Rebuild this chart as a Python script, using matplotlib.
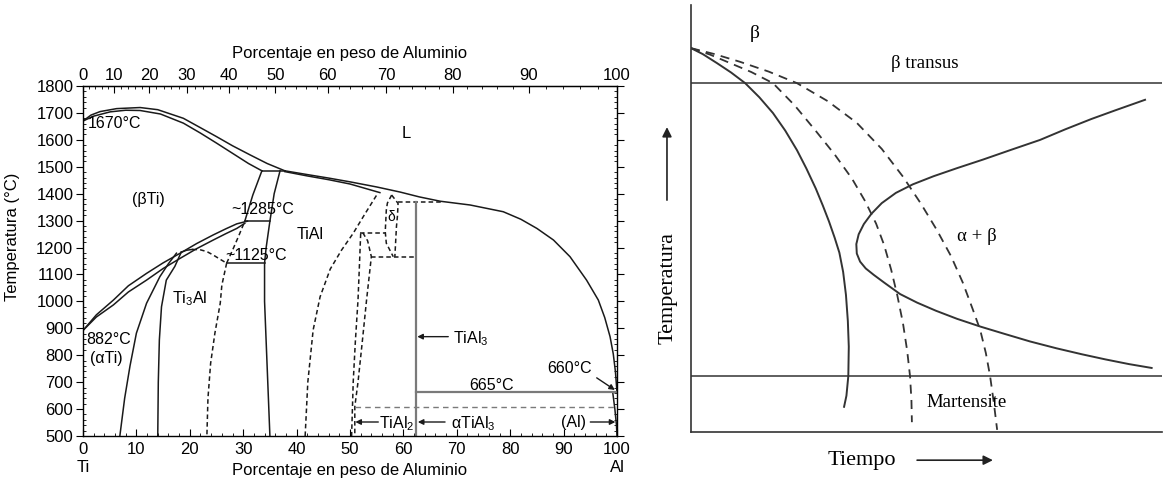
import matplotlib.pyplot as plt
import numpy as np
from matplotlib.ticker import MultipleLocator

plt.rcParams['font.family'] = ['Liberation Sans', 'DejaVu Sans']
plt.rcParams['mathtext.fontset'] = 'custom'
plt.rcParams['mathtext.rm'] = 'Liberation Sans'

# ---- Ti-Al phase diagram (wt% Al, deg C) ----
liquidus_ti = [(0, 1670), (1.5, 1692), (3.2, 1705), (6.3, 1716), (10.7, 1720), (14, 1712),
               (18.8, 1680), (22, 1645), (25, 1612), (28, 1578), (31.3, 1544), (34.5, 1512), (37.8, 1485)]
solidus_ti = [(0, 1670), (2, 1688), (5.1, 1704), (8, 1710), (10.7, 1709), (14.5, 1696),
              (18.8, 1662), (22, 1625), (25, 1588), (28, 1550), (31, 1512), (33.5, 1485)]
peritectic = [(33.5, 1485), (37.8, 1485)]
liquidus_al = [(37.8, 1485), (42, 1471), (46, 1458), (50, 1444), (55, 1425), (59.4, 1406),
               (63, 1388), (66.9, 1372), (72.5, 1358), (78.7, 1333), (82, 1305), (85, 1271),
               (88.1, 1228), (91.2, 1166), (94.3, 1079), (96.5, 1005), (97.7, 940),
               (98.7, 869), (99.3, 805), (99.7, 740), (100, 662)]
solidus_tial = [(37.8, 1482), (42, 1466), (46, 1452), (50, 1436), (55.6, 1404)]
beta_line = [(33.5, 1485), (31.8, 1395), (30.3, 1298)]
tial_left = [(36.9, 1485), (35.8, 1400), (35.0, 1298), (34.3, 1200), (34.0, 1142),
             (34.0, 1000), (34.4, 800), (34.8, 600), (35.0, 500)]
eutectoid_1285 = [(30.3, 1298), (35.0, 1298)]
eutectoid_1125 = [(26.9, 1142), (34.0, 1142)]
alpha_upper = [(0, 892), (2.5, 950), (5.7, 1005), (8.5, 1058), (11.9, 1104), (15, 1143),
               (18.2, 1179), (21.3, 1215), (24.4, 1247), (26.8, 1270), (28.8, 1288), (30.8, 1298)]
alpha_lower = [(0, 892), (2.5, 942), (5.7, 987), (8.5, 1035), (11.9, 1079), (15, 1122),
               (18.2, 1160), (21.3, 1196), (24.4, 1228), (26.8, 1252), (28.8, 1271), (30.3, 1290)]
alpha_solvus = [(17.5, 1179), (16, 1140), (14.4, 1092), (11.9, 993), (10, 882), (8.8, 760),
                (7.8, 640), (6.9, 500)]
ti3al_left = [(18.4, 1183), (17.2, 1130), (15.6, 1079), (14.7, 980), (14.3, 857),
              (14.1, 700), (14.0, 500)]
ti3al_top = [(18.4, 1183), (19.4, 1190), (20.5, 1193)]
ti3al_dome = [(20.5, 1193), (21.9, 1192), (23.2, 1185), (24.4, 1172), (25.8, 1155), (26.9, 1142)]
ti3al_right = [(26.9, 1142), (26.0, 1060), (25.7, 993), (24.7, 882), (23.9, 770),
               (23.4, 640), (23.2, 500)]
alpha_gamma = [(26.9, 1142), (28.0, 1190), (29.2, 1245), (30.3, 1298)]
tial_right = [(41.6, 500), (42.1, 700), (43.1, 894), (44.4, 1017), (46.3, 1120),
              (48.4, 1190), (50.6, 1253), (52.8, 1325), (55.0, 1395)]
delta_left = [(57.8, 1395), (57.0, 1365), (56.8, 1339), (56.6, 1259), (56.8, 1216), (58.1, 1166)]
delta_right = [(57.8, 1395), (59.0, 1364), (58.9, 1320), (58.7, 1278), (58.4, 1166)]
line_1368 = [(59.0, 1368), (67.4, 1368)]
line_1255 = [(51.9, 1255), (56.6, 1255)]
line_1164 = [(54.0, 1164), (62.4, 1164)]
tial2_left = [(52.0, 1252), (51.8, 1150), (51.5, 1005), (51.0, 850), (50.6, 700), (50.3, 500)]
tial2_right = [(52.4, 1255), (53.3, 1225), (54.0, 1166), (53.1, 1005), (52.3, 850),
               (51.5, 700), (50.9, 609), (50.9, 500)]
line_610 = [(50.9, 609), (99.6, 609)]
tial3_line = [(62.4, 500), (62.4, 1368)]
line_665 = [(62.4, 662), (100, 662)]
al_solvus = [(99.2, 662), (99.6, 600), (99.9, 540), (100, 500)]

# ---- CCT sketch (relative units) ----
beta_transus = 81.7
martensite = 13.1
curve_solid = [(0, 89.9), (2.5, 88.5), (5.5, 86.4), (8.5, 84.2), (11.5, 81.7), (14.5, 78.4),
               (17.4, 74.7), (20, 70.6), (22.5, 66.0), (24.5, 61.7), (26.5, 57.0), (28, 53.0),
               (29.3, 49.3), (30.5, 45.5), (31.5, 42.0), (32.3, 37.5), (32.9, 32.1),
               (33.3, 26.0), (33.5, 20.0), (33.4, 13.1), (33.0, 8.5), (32.5, 5.9)]
curve_dash1 = [(0, 89.9), (4, 88.4), (8.3, 86.4), (12.8, 84.3), (17.4, 81.7), (22, 76.5),
               (26.5, 70.5), (30.5, 65.0), (34.2, 59.3), (37, 54.0), (39.3, 48.8), (41.0, 43.8),
               (42.5, 38.0), (43.8, 32.0), (45.0, 25.5), (45.9, 19.0), (46.5, 13.1),
               (46.8, 7.5), (46.9, 2.3)]
curve_dash2 = [(0, 89.9), (5, 88.5), (10.4, 86.7), (16.5, 84.4), (22.5, 81.7), (29, 77.5),
               (35.2, 72.4), (40.5, 66.3), (45.0, 59.8), (48.8, 53.5), (52.2, 47.3),
               (55.2, 41.2), (57.7, 35.0), (59.8, 28.8), (61.4, 23.9), (62.6, 18.5),
               (63.5, 13.1), (64.3, 6.8), (65.0, 0.5)]
c_curve = [(96.4, 77.8), (90, 75.3), (85, 73.3), (79.5, 70.9), (74.1, 68.4), (68, 66.1),
           (62, 63.8), (56.5, 61.8), (51.5, 59.9), (47.1, 58.0), (43.5, 56.0), (40.5, 53.6),
           (38.3, 51.1), (36.7, 48.7), (35.6, 46.3), (35.1, 44.0), (35.2, 41.8), (35.9, 39.9),
           (37.1, 38.3), (38.8, 36.8), (41.0, 35.0), (44.4, 32.3), (48, 30.3), (52, 28.4),
           (56.5, 26.5), (61.4, 24.7), (66.5, 23.0), (72, 21.2), (77.6, 19.6), (83, 18.2),
           (88, 17.0), (93, 15.9), (97.8, 15.0)]


def draw(ax, pts, **kw):
    x, y = zip(*pts)
    ax.plot(x, y, solid_joinstyle='round', dash_joinstyle='round', **kw)


def wt_to_at(w):
    w = np.clip(np.asarray(w, dtype=float), 0, 100)
    a = w / 26.98
    b = (100 - w) / 47.87
    return 100 * a / (a + b)


def at_to_wt(x):
    x = np.clip(np.asarray(x, dtype=float), 0, 100)
    a = 26.98 * x
    b = 47.87 * (100 - x)
    return 100 * a / (a + b)


fig = plt.figure(figsize=(11.71, 4.79), dpi=100)

# ================= left: phase diagram =================
ax = fig.add_axes([83 / 1171, 43 / 479, 534 / 1171, 350 / 479])
k = '#1a1a1a'
g = '#7a7a7a'
solid = dict(color=k, lw=1.1)
dash = dict(color=k, lw=1.1, ls=(0, (3, 2)))

for pts in [liquidus_ti, solidus_ti, peritectic, liquidus_al, solidus_tial, beta_line,
            tial_left, eutectoid_1285, eutectoid_1125, alpha_upper, alpha_lower,
            alpha_solvus, ti3al_left, ti3al_top, al_solvus]:
    draw(ax, pts, **solid)
for pts in [ti3al_dome, ti3al_right, alpha_gamma, tial_right, delta_left, delta_right,
            line_1368, line_1255, line_1164, tial2_left, tial2_right]:
    draw(ax, pts, **dash)
draw(ax, line_610, color=g, lw=1.0, ls=(0, (4, 3)))
draw(ax, tial3_line, color=g, lw=1.6)
draw(ax, line_665, color=g, lw=1.6)

ax.set_xlim(0, 100)
ax.set_ylim(500, 1800)
ax.xaxis.set_major_locator(MultipleLocator(10))
ax.xaxis.set_minor_locator(MultipleLocator(2))
ax.yaxis.set_major_locator(MultipleLocator(100))
ax.yaxis.set_minor_locator(MultipleLocator(20))
ax.tick_params(axis='x', which='major', direction='in', length=5, labelsize=12, pad=4)
ax.tick_params(axis='x', which='minor', direction='in', length=2.5)
ax.tick_params(axis='y', which='major', direction='out', length=5, labelsize=12,
               right=True, pad=2)
ax.tick_params(axis='y', which='minor', direction='in', length=2.5, right=True)
ax.set_ylabel('Temperatura (°C)', fontsize=12)
ax.yaxis.set_label_coords(-0.118, 0.57)
ax.set_xlabel('Porcentaje en peso de Aluminio', fontsize=12, labelpad=5)

sec = ax.secondary_xaxis('top', functions=(wt_to_at, at_to_wt))
sec.set_xticks(np.arange(0, 101, 10))
sec.xaxis.set_minor_locator(MultipleLocator(2))
sec.tick_params(which='major', direction='in', length=5, labelsize=12, pad=2)
sec.tick_params(which='minor', direction='in', length=2.5)
sec.set_xlabel('Porcentaje en peso de Aluminio', fontsize=12, labelpad=7)

for s in ax.spines.values():
    s.set_linewidth(1.0)

fs = 11.5
ax.text(0, 384, 'Ti', ha='center', va='center', fontsize=12, clip_on=False)
ax.text(100, 384, 'Al', ha='center', va='center', fontsize=12, clip_on=False)
ax.text(60.6, 1624, 'L', ha='center', va='center', fontsize=12)
ax.text(12.2, 1377, '(βTi)', ha='center', va='center', fontsize=fs)
ax.text(0.9, 1662, '1670°C', ha='left', va='center', fontsize=fs)
ax.text(33.6, 1343, '~1285°C', ha='center', va='center', fontsize=fs)
ax.text(42.5, 1247, 'TiAl', ha='center', va='center', fontsize=fs)
ax.text(32.5, 1169, '~1125°C', ha='center', va='center', fontsize=fs)
ax.text(19.9, 993, r'Ti$_\mathregular{3}$Al', ha='center', va='baseline', fontsize=fs)
ax.text(0.7, 860, '882°C', ha='left', va='center', fontsize=fs)
ax.text(1.3, 786, '(αTi)', ha='left', va='center', fontsize=fs)
ax.text(57.8, 1315, 'δ', ha='center', va='center', fontsize=10)
ax.text(76.6, 686, '665°C', ha='center', va='center', fontsize=fs)
ax.text(91.2, 749, '660°C', ha='center', va='center', fontsize=fs)

arrow = dict(arrowstyle='-|>', color=k, lw=1.0, mutation_scale=8, shrinkA=0, shrinkB=0)
ax.text(69.3, 845, r'TiAl$_\mathregular{3}$', fontsize=fs, ha='left', va='baseline')
ax.annotate('', xy=(62.6, 869), xytext=(68.4, 869), arrowprops=arrow)
ax.text(55.4, 528, r'TiAl$_\mathregular{2}$', fontsize=fs, ha='left', va='baseline')
ax.annotate('', xy=(51.0, 552), xytext=(55.3, 552), arrowprops=arrow)
ax.text(69.0, 528, r'αTiAl$_\mathregular{3}$', fontsize=fs, ha='left', va='baseline')
ax.annotate('', xy=(62.7, 552), xytext=(67.8, 552), arrowprops=arrow)
ax.text(91.8, 552, '(Al)', ha='center', va='center', fontsize=fs)
ax.annotate('', xy=(99.7, 552), xytext=(95.0, 552), arrowprops=arrow)
ax.annotate('', xy=(99.6, 671), xytext=(96.2, 716), arrowprops=arrow)

# ================= right: CCT sketch =================
bx = fig.add_axes([691 / 1171, 47 / 479, 471 / 1171, 427 / 479])
bx.set_xlim(0, 100)
bx.set_ylim(0, 100)
bx.set_xticks([])
bx.set_yticks([])
for side in ['top', 'right']:
    bx.spines[side].set_visible(False)
for side in ['left', 'bottom']:
    bx.spines[side].set_color('#333333')
    bx.spines[side].set_linewidth(1.2)

c = '#333333'
bx.axhline(beta_transus, color=c, lw=1.1)
bx.axhline(martensite, color=c, lw=1.1)
draw(bx, curve_solid, color=c, lw=1.4)
draw(bx, c_curve, color=c, lw=1.4)
draw(bx, curve_dash1, color=c, lw=1.3, ls=(0, (5, 3.5)))
draw(bx, curve_dash2, color=c, lw=1.3, ls=(0, (5, 3.5)))

serif = ['Liberation Serif', 'DejaVu Serif']
bx.text(13.6, 93.4, 'β', ha='center', va='center', fontsize=14, family=serif)
bx.text(49.7, 86.4, 'β transus', ha='center', va='center', fontsize=13.5, family=serif)
bx.text(60.7, 45.7, 'α + β', ha='center', va='center', fontsize=13.5, family=serif)
bx.text(58.6, 7.0, 'Martensite', ha='center', va='center', fontsize=13.5, family=serif)
bx.text(-4.9, 33.7, 'Temperatura', ha='center', va='center', rotation=90, fontsize=16,
        family=serif, clip_on=False)
bx.text(36.3, -6.6, 'Tiempo', ha='center', va='center', fontsize=16, family=serif,
        clip_on=False)
big_arrow = dict(arrowstyle='-|>', color='#222222', lw=1.2, mutation_scale=14,
                 shrinkA=0, shrinkB=0)
bx.annotate('', xy=(-5.1, 71.4), xytext=(-5.1, 54.3), arrowprops=big_arrow,
            annotation_clip=False)
bx.annotate('', xy=(64.1, -6.6), xytext=(48.0, -6.6), arrowprops=big_arrow,
            annotation_clip=False)

fig.savefig('out.png', dpi=100)
